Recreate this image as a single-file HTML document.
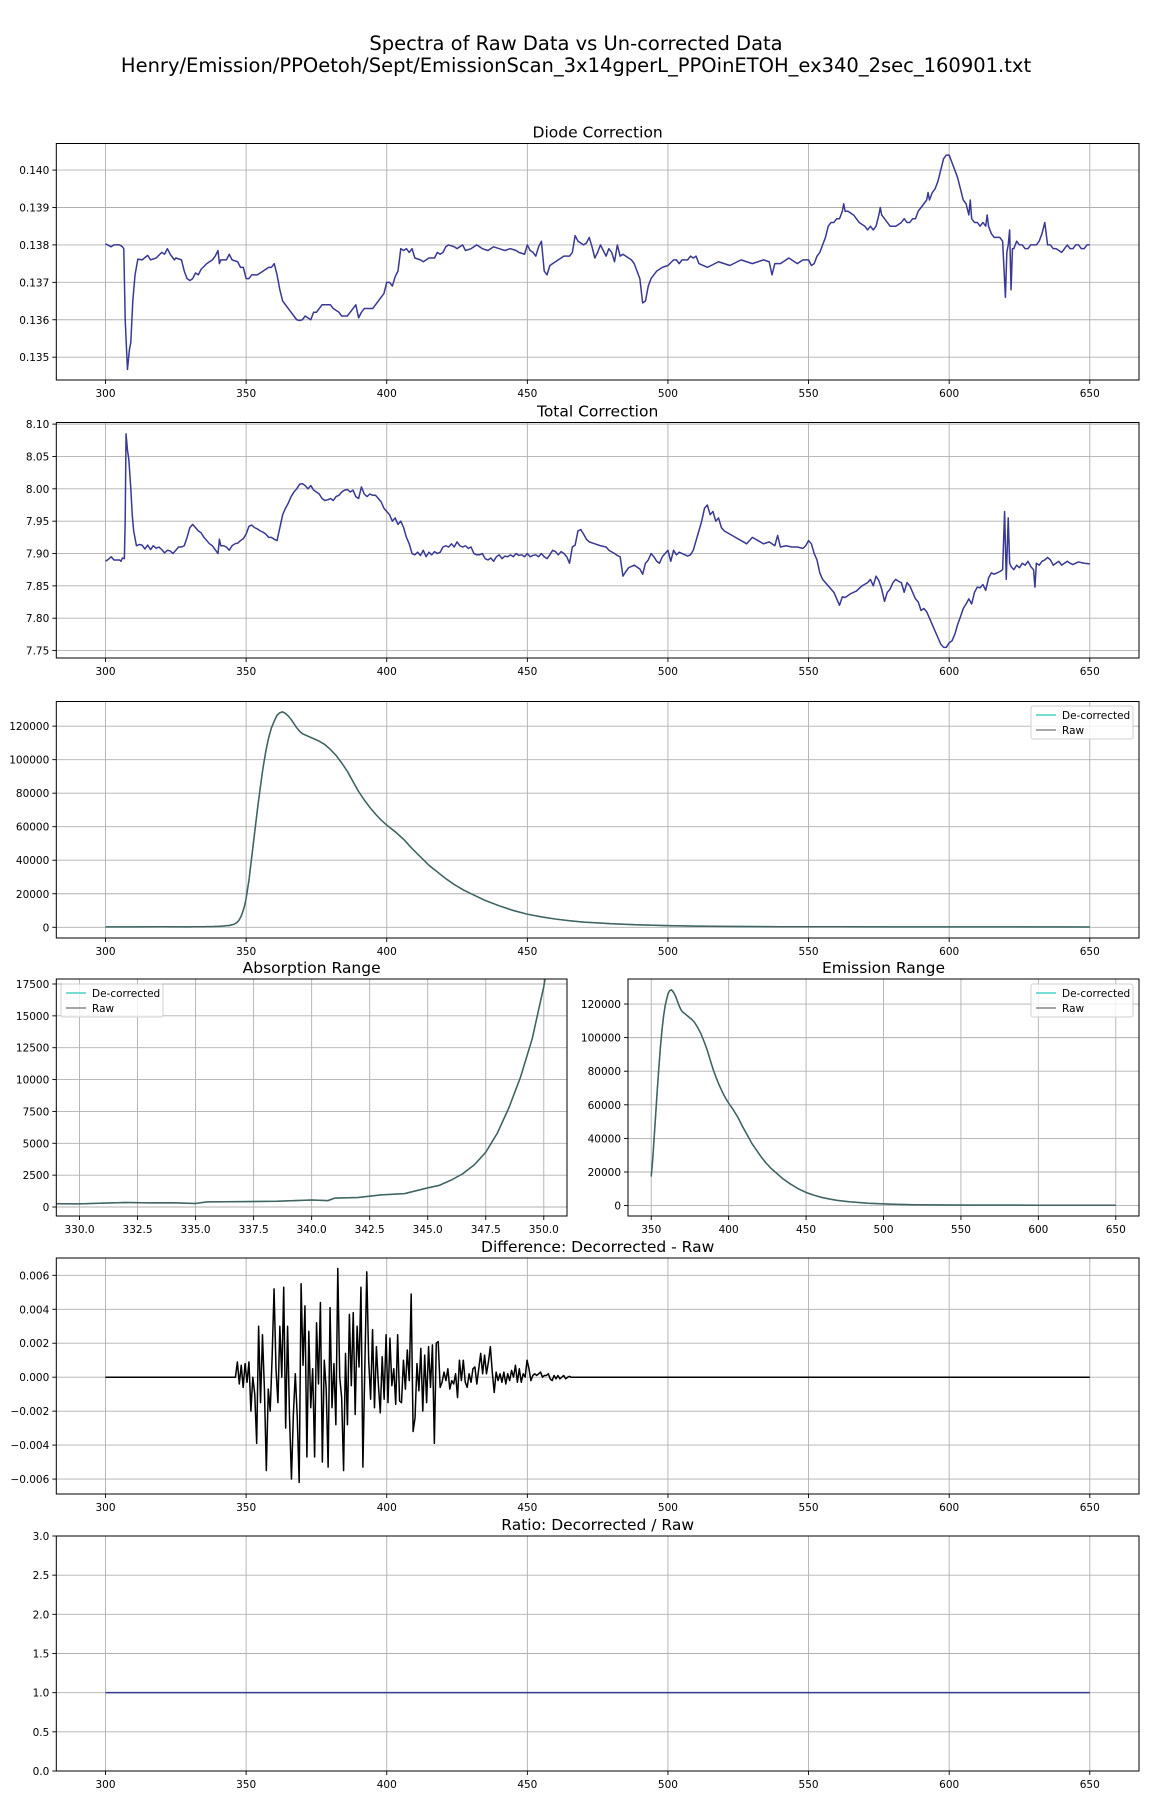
<!DOCTYPE html>
<html><head><meta charset="utf-8"><style>
body{margin:0;background:#fff;}
svg{display:block;font-family:"DejaVu Sans","Liberation Sans",sans-serif;}
</style></head><body>
<svg id="fig" width="1152" height="1800" viewBox="0 0 1152 1800">
<rect width="1152" height="1800" fill="#fff"/>
<text x="576" y="50" font-size="19.5" text-anchor="middle" fill="#000">Spectra of Raw Data vs Un-corrected Data</text>
<text x="576" y="72" font-size="19.5" text-anchor="middle" fill="#000">Henry/Emission/PPOetoh/Sept/EmissionScan_3x14gperL_PPOinETOH_ex340_2sec_160901.txt</text>
</svg>
<script>
// ---------- DATA ----------
const diodeX=[300,302,303,305,306,306.5,307,307.8,308.5,309,309.7,310.5,311.5,313,315,316,318,320,321,322,323,324.5,325,327,328,329,330,331,332,333,334,336,338,339,340,340.5,341,343,344,345,347,348,349,350,351,352,354,356,358,359,360,361,362,363,364,365,366,367,368,369,370,371,372,373,374,375,376,377,378,380,381,383,384,386,387,388,389,390,391,392,394,395,396,398,399,400,401,402,403,404,404.5,405,406,407,408,409,410,412,413,414,415,417,418,419,420,421,422,424,425,427,428,430,432,434,436,438,440,442,444,446,447,449,450,451,452,453,454,455,456,457,458,459,461,463,465,466,467,468,470,471,472,473,474,475,476,477,478,479,480,481,482,483,484,485,486,487,488,489,490,491,492,493,494,495,496,498,500,502,503,504,505,507,508,509,510,511,514,518,522,526,530,534,536,537,538,540,543,546,548,550,551,552,553,554,555,556,557,558,559,560,561,562,562.5,563,564,566,567,568,570,571,572,573,574,575,575.5,576,577,578,579,581,582,583,584,585,586,587,588,589,590,591,592,592.5,593,594,595,596,597,598,599,600,601,602,603,604,605,606,607,607.5,608,609,610,611,612,613,613.5,614,615,616,617,618,619,620,620.5,621,621.5,622,622.5,623,624,625,626,627,628,629,630,631,632,633,634,635,636,637,638,640,641,642,643,644,645,646,647,648,649,650];
const diodeY=[.13803,.13795,.1380,.1380,.13795,.1379,.1360,.13467,.1352,.1354,.1365,.1372,.13762,.1376,.13772,.1376,.13765,.1378,.13775,.1379,.13775,.1376,.13765,.1376,.1373,.1371,.13705,.1371,.13725,.1372,.13735,.1375,.1376,.1377,.13785,.1375,.1376,.1376,.13775,.1376,.13755,.1374,.1374,.1371,.1371,.1372,.1372,.1373,.1374,.1374,.1375,.1372,.1368,.1365,.1364,.1363,.1362,.1361,.1360,.13598,.1360,.1361,.13605,.1360,.1362,.1362,.1363,.1364,.1364,.1364,.1363,.1362,.1361,.1361,.1362,.1363,.1364,.13605,.1362,.1363,.1363,.1363,.1364,.1366,.1367,.1370,.1370,.1369,.13715,.1373,.1376,.1379,.13785,.1379,.1378,.1379,.13765,.1376,.13755,.1376,.13765,.13765,.1378,.13775,.1378,.13795,.1380,.13795,.1379,.1380,.13785,.1379,.1380,.1379,.13785,.13795,.1379,.13785,.1379,.13785,.1378,.13775,.1380,.13785,.1378,.1377,.13795,.1381,.1373,.1372,.13745,.1375,.1376,.1377,.1377,.1378,.13825,.1381,.1380,.13805,.1382,.13795,.13765,.1378,.1380,.13785,.1377,.1379,.1378,.13755,.1380,.1377,.13775,.1377,.13765,.1376,.1375,.1373,.1371,.13645,.1365,.1369,.1371,.1372,.1373,.1374,.13745,.1376,.1376,.1375,.1376,.1376,.1377,.13765,.1377,.1375,.1374,.13755,.13745,.1376,.1375,.1376,.13755,.1372,.1375,.1375,.13765,.1375,.1376,.1376,.13745,.1375,.1377,.1378,.1380,.1382,.1385,.1386,.1386,.1387,.1387,.1389,.1391,.1389,.1389,.1388,.1387,.1386,.1385,.1384,.1385,.1384,.1385,.1388,.1390,.1388,.1387,.1386,.1385,.1385,.13855,.1386,.1387,.1386,.1386,.1387,.1387,.1389,.1390,.1391,.1392,.1394,.1392,.1394,.1395,.1397,.1400,.1403,.1404,.1404,.1402,.1400,.1398,.1395,.1392,.1391,.1388,.1392,.1387,.1386,.1386,.1385,.1386,.1385,.1388,.1385,.1383,.1382,.1382,.1382,.1381,.1366,.1378,.1380,.1384,.1368,.1379,.1379,.1381,.1380,.1380,.1379,.1379,.1380,.1380,.1380,.1381,.1383,.1386,.1380,.1380,.1379,.1379,.1378,.1379,.1380,.1379,.1379,.1380,.1380,.1379,.1379,.1380,.1380];
const totalX=[300,301,302,303,305,305.5,306,306.7,307,307.3,307.8,308.3,309,309.5,310,311,312,313,314,315,316,317,318,319,320,321,322,323,324,325,326,327,328,329,330,331,332,333,334,335,336,337,338,339,340,340.5,341,342,343,344,345,346,347,348,349,350,351,352,353,354,355,356,357,358,359,360,361,362,363,364,365,366,367,368,369,370,371,372,373,374,375,376,377,378,379,380,381,382,383,384,385,386,387,388,389,390,391,392,393,394,395,396,397,398,399,400,401,402,403,404,405,406,407,408,409,410,411,412,413,414,415,416,417,418,419,420,421,422,423,424,425,426,427,428,429,430,431,432,433,434,435,436,437,438,439,440,441,442,443,444,445,446,447,448,449,450,451,452,453,454,455,456,457,458,459,460,461,462,463,464,465,466,467,468,469,470,471,472,474,476,478,479,481,482,483,484,485,486,488,490,491,492,493,494,495,496,497,498,499,500,501,502,503,504,506,507,508,509,510,511,512,513,514,515,516,517,518,519,520,522,524,526,528,530,532,534,536,538,539,540,542,544,546,548,549,550,551,552,553,554,555,556,557,558,559,560,561,562,563,565,567,569,571,572,573,574,575,576,577,578,579,580,581,582,583,584,585,586,587,588,589,590,591,592,593,594,595,596,597,598,599,600,601,602,603,604,605,606,607,608,609,610,611,612,613,614,615,616,617,618,619,619.7,620.3,621,621.5,622,623,624,625,626,627,628,629,630,630.5,631,632,633,634,635,636,637,638,639,640,641,642,643,644,645,646,648,650];
const totalY=[7.888,7.891,7.895,7.890,7.890,7.888,7.893,7.892,7.95,8.085,8.06,8.045,8.00,7.96,7.935,7.912,7.914,7.913,7.907,7.913,7.906,7.912,7.908,7.910,7.906,7.901,7.905,7.904,7.900,7.905,7.910,7.910,7.912,7.925,7.940,7.945,7.940,7.935,7.932,7.925,7.920,7.915,7.912,7.906,7.900,7.922,7.912,7.912,7.910,7.905,7.912,7.915,7.916,7.920,7.923,7.930,7.942,7.944,7.940,7.938,7.935,7.933,7.930,7.925,7.925,7.922,7.920,7.940,7.960,7.970,7.978,7.988,7.995,8.000,8.007,8.008,8.005,8.000,8.005,7.998,7.995,7.992,7.985,7.982,7.983,7.985,7.982,7.988,7.990,7.995,7.998,7.999,7.995,7.998,7.988,7.985,8.003,7.992,7.988,7.992,7.990,7.990,7.985,7.980,7.970,7.965,7.960,7.950,7.955,7.945,7.950,7.940,7.925,7.915,7.900,7.898,7.902,7.897,7.905,7.895,7.902,7.898,7.903,7.900,7.902,7.910,7.912,7.910,7.915,7.910,7.918,7.912,7.910,7.912,7.908,7.910,7.900,7.898,7.898,7.900,7.892,7.890,7.893,7.888,7.895,7.898,7.892,7.896,7.895,7.898,7.895,7.900,7.897,7.898,7.895,7.900,7.895,7.897,7.898,7.895,7.900,7.895,7.892,7.898,7.905,7.903,7.898,7.903,7.900,7.895,7.885,7.910,7.913,7.935,7.937,7.930,7.922,7.918,7.915,7.912,7.910,7.905,7.900,7.897,7.895,7.865,7.872,7.878,7.882,7.876,7.868,7.885,7.890,7.900,7.895,7.888,7.885,7.895,7.900,7.905,7.888,7.905,7.898,7.902,7.898,7.896,7.898,7.905,7.920,7.935,7.950,7.970,7.975,7.960,7.965,7.950,7.955,7.940,7.935,7.930,7.925,7.920,7.915,7.925,7.920,7.915,7.918,7.912,7.928,7.910,7.912,7.910,7.910,7.908,7.912,7.920,7.915,7.900,7.890,7.870,7.860,7.855,7.850,7.845,7.840,7.830,7.820,7.833,7.832,7.838,7.842,7.850,7.855,7.860,7.850,7.865,7.858,7.845,7.826,7.840,7.845,7.855,7.860,7.857,7.855,7.840,7.855,7.850,7.840,7.830,7.825,7.812,7.815,7.810,7.800,7.790,7.780,7.770,7.760,7.755,7.755,7.762,7.765,7.775,7.790,7.802,7.815,7.822,7.830,7.822,7.840,7.848,7.847,7.852,7.843,7.862,7.870,7.868,7.870,7.872,7.875,7.965,7.860,7.955,7.885,7.880,7.875,7.882,7.878,7.885,7.882,7.888,7.880,7.875,7.848,7.885,7.882,7.888,7.890,7.894,7.890,7.882,7.885,7.888,7.882,7.885,7.888,7.885,7.883,7.885,7.887,7.885,7.884];
const rawX=[300,310,320,329,330,331,332,333,334,335,335.5,337,338.5,340,340.7,341,342,343,344,345,345.5,346,346.5,347,347.5,348,348.5,349,349.5,350,351,352,353,354,355,356,357,358,359,360,361,362,363,364,365,366,367,368,369,370,372,374,376,378,380,382,384,386,388,390,392,394,396,398,400,403,406,409,412,415,418,421,424,427,430,435,440,445,450,455,460,465,470,475,480,490,500,510,520,540,560,600,650];
const rawY=[250,260,280,260,250,300,350,320,330,280,400,420,450,550,500,700,750,950,1050,1500,1700,2100,2600,3300,4300,5800,7800,10200,13200,17300,28000,42000,56000,70000,83000,95000,105000,113000,119000,123000,126500,128000,128500,127500,126000,124000,121500,119000,117000,115500,114000,112500,111000,109000,106000,102500,98000,93000,87000,81000,76000,71500,67500,64000,61000,57000,52500,47000,42000,37000,33000,29000,25500,22500,20000,16000,12800,10000,7800,6200,4900,3900,3100,2600,2100,1400,1000,700,500,350,280,220,200];
const decorrY=rawY.slice();
const diffStart=346.2, diffEnd=465;
const diffY=[0,0.9,-0.4,0.7,-0.6,0.8,-0.3,0.9,-2.0,0,-1.0,-3.9,3.0,-1.5,2.5,-0.7,-5.5,-0.7,-2.0,1.2,5.2,0.5,-1.5,3.0,0,5.3,-3.0,3.0,-2.3,-6.0,-2.2,0.2,-2.3,-6.2,5.5,0.7,4.2,-4.7,2.7,-1.8,0.5,-4.7,3.2,-0.4,4.4,-5.0,1.0,-0.7,-5.3,4.1,-1.8,0.8,-2.8,6.4,0,-1.2,-5.5,1.4,-2.8,3.7,-0.5,3.8,-2.2,3.0,0.6,5.3,-5.3,0.6,6.2,1.0,-1.3,2.8,-1.8,1.8,-0.4,-2.1,1.2,-1.3,2.5,-1.5,2.3,-0.5,0.5,-1.6,2.5,-1.4,-1.5,1.0,-0.7,1.6,-0.2,4.9,-3.2,-2.4,0.8,-0.8,1.7,-2.0,1.3,-1.5,1.8,-0.6,1.9,-3.9,2.0,2.1,-0.6,-0.3,0.3,-0.2,0.5,-0.7,-0.2,-0.4,0.2,-1.2,1.0,-0.2,1.0,-0.3,-0.6,0.2,-0.3,0.5,0.6,-0.4,0.5,1.4,0.2,1.3,0.2,0.9,1.8,0.3,-0.9,0.3,-0.2,0.2,-0.3,0.3,-0.4,0.2,-0.2,0.4,0,0.7,-0.3,0.5,-0.3,0.2,0,1.0,0.5,-0.2,0.1,0.2,0.1,0.2,0.3,0,0.1,0.1,0.2,-0.1,-0.2,0.1,-0.1,0.1,-0.1,0,0.1,-0.1,0,0.05];
const ratioX=[300,650];
const ratioY=[1.0,1.0];
const xTicksMain=[300,350,400,450,500,550,600,650];
const xTicksAbs=[330,332.5,335,337.5,340,342.5,345,347.5,350];
const xTicksEm=[350,400,450,500,550,600,650];
const yTicksDiode=[0.135,0.136,0.137,0.138,0.139,0.140];
const yTicksTotal=[7.75,7.80,7.85,7.90,7.95,8.00,8.05,8.10];
const yTicksSpec=[0,20000,40000,60000,80000,100000,120000];
const yTicksAbs=[0,2500,5000,7500,10000,12500,15000,17500];
const yTicksDiff=[-0.006,-0.004,-0.002,0,0.002,0.004,0.006];
const yTicksRatio=[0,0.5,1.0,1.5,2.0,2.5,3.0];

// ---------- RENDER ----------
const NS='http://www.w3.org/2000/svg';
const fig=document.getElementById('fig');
function mk(tag,attrs,parent){const e=document.createElementNS(NS,tag);for(const k in attrs)e.setAttribute(k,attrs[k]);(parent||fig).appendChild(e);return e;}
function fmtMinus(s){return s.replace('-','\u2212');}

function axes(o){
  const g=mk('g',{});
  
  
  const L=o.box[0],R=o.box[1],T=o.box[2],B=o.box[3];
  const sx=v=>L+(v-o.xlim[0])/(o.xlim[1]-o.xlim[0])*(R-L);
  const sy=v=>B-(v-o.ylim[0])/(o.ylim[1]-o.ylim[0])*(B-T);
  o.xticks.forEach(t=>{
    const x=sx(t);
    const gl=mk('line',{x1:x,x2:x,y1:T,y2:B,stroke:'#b0b0b0','stroke-width':0.9},g);
    
    
    mk('line',{x1:x,x2:x,y1:B,y2:B+4,stroke:'#000','stroke-width':0.9},g);
    const tx=mk('text',{x:x,y:B+17,'font-size':10.5,'text-anchor':'middle',fill:'#000'},g);
    
    
    tx.textContent=o.xfmt(t);
  });
  o.yticks.forEach(t=>{
    const y=sy(t);
    const gl=mk('line',{x1:L,x2:R,y1:y,y2:y,stroke:'#b0b0b0','stroke-width':0.9},g);
    
    
    mk('line',{x1:L-4,x2:L,y1:y,y2:y,stroke:'#000','stroke-width':0.9},g);
    const tx=mk('text',{x:L-7,y:y+4,'font-size':10.5,'text-anchor':'end',fill:'#000'},g);
    
    
    tx.textContent=fmtMinus(o.yfmt(t));
  });
  const clipId='c'+o.name;
  const cp=mk('clipPath',{id:clipId},g);
  mk('rect',{x:L,y:T,width:R-L,height:B-T},cp);
  o.series.forEach(s=>{
    let d='';
    for(let i=0;i<s.x.length;i++){
      if(s.x[i]<o.xlim[0]||s.x[i]>o.xlim[1])continue;
      d+=(d?'L':'M')+sx(s.x[i]).toFixed(2)+','+sy(s.y[i]).toFixed(2);
    }
    const p=mk('path',{d:d,fill:'none',stroke:s.color,'stroke-width':s.w||1.5,'stroke-opacity':s.op||1,'stroke-linejoin':'round','clip-path':'url(#'+clipId+')'},g);
    
    
  });
  const fr=mk('rect',{x:L,y:T,width:R-L,height:B-T,fill:'none',stroke:'#000','stroke-width':1},g);
  
  
  if(o.title){
    const tt=mk('text',{x:(L+R)/2,y:T-6,'font-size':15.5,'text-anchor':'middle',fill:'#000'},g);
    
    
    tt.textContent=o.title;
  }
  if(o.legend){
    const [lx,ly]=o.legend;
    const lg=mk('g',{},g);
    
    
    mk('rect',{x:lx,y:ly,width:102,height:33,rx:2,fill:'#fff','fill-opacity':0.8,stroke:'#d0d0d0','stroke-width':1},lg);
    [['De-corrected','#48d1cc'],['Raw','#555']].forEach((e,i)=>{
      const eg=mk('g',{},lg);
      
      
      mk('line',{x1:lx+5,x2:lx+25,y1:ly+9+i*15,y2:ly+9+i*15,stroke:e[1],'stroke-width':1.5,'stroke-opacity':i?0.7:1},eg);
      const t=mk('text',{x:lx+31,y:ly+13+i*15,'font-size':10.5,fill:'#000'},eg);
      t.textContent=e[0];
    });
  }
}
const f0=v=>String(v), f1=v=>v.toFixed(1), f2=v=>v.toFixed(2), f3=v=>v.toFixed(3);
const XL=[282.5,667.5];
const specSeries=[{x:rawX,y:decorrY,color:'#48d1cc',name:'decorrected-line'},{x:rawX,y:rawY,color:'#444',op:0.8,name:'raw-line'}];
const diffX=diffY.map((v,i)=>diffStart+i*(diffEnd-diffStart)/(diffY.length-1));
const diffXf=[300,diffStart-0.5].concat(diffX,[diffEnd+0.5,650]);
const diffYf=[0,0].concat(diffY.map(v=>v*0.001),[0,0]);

axes({name:'diode-correction-chart',box:[56.3,1139,143.5,380],xlim:XL,ylim:[0.13439,0.14071],xticks:xTicksMain,yticks:yTicksDiode,xfmt:f0,yfmt:f3,title:'Diode Correction',series:[{x:diodeX,y:diodeY,color:'#393993',name:'diode-line'}]});
axes({name:'total-correction-chart',box:[56.3,1139,422.5,658],xlim:XL,ylim:[7.7385,8.1025],xticks:xTicksMain,yticks:yTicksTotal,xfmt:f0,yfmt:f2,title:'Total Correction',series:[{x:totalX,y:totalY,color:'#393993',name:'total-line'}]});
axes({name:'spectrum-chart',box:[56.3,1139,701.5,938],xlim:XL,ylim:[-6400,134700],xticks:xTicksMain,yticks:yTicksSpec,xfmt:f0,yfmt:f0,legend:[1031,706],series:specSeries});
axes({name:'absorption-range-chart',box:[56.3,567,979,1216],xlim:[329,351],ylim:[-706,17892],xticks:xTicksAbs,yticks:yTicksAbs,xfmt:f1,yfmt:f0,title:'Absorption Range',legend:[61,984],series:specSeries});
axes({name:'emission-range-chart',box:[628,1139,979,1216],xlim:[335,665],ylim:[-6200,134900],xticks:xTicksEm,yticks:yTicksSpec,xfmt:f0,yfmt:f0,title:'Emission Range',legend:[1031,984],series:[{x:rawX.filter(v=>v>=350),y:decorrY.slice(rawX.indexOf(350)),color:'#48d1cc',name:'decorrected-line'},{x:rawX.filter(v=>v>=350),y:rawY.slice(rawX.indexOf(350)),color:'#444',op:0.8,name:'raw-line'}]});
axes({name:'difference-chart',box:[56.3,1139,1258,1494],xlim:XL,ylim:[-0.00688,0.00702],xticks:xTicksMain,yticks:yTicksDiff,xfmt:f0,yfmt:f3,title:'Difference: Decorrected - Raw',series:[{x:diffXf,y:diffYf,color:'#000',name:'difference-line'}]});
axes({name:'ratio-chart',box:[56.3,1139,1536,1771],xlim:XL,ylim:[0,3],xticks:xTicksMain,yticks:yTicksRatio,xfmt:f0,yfmt:f1,title:'Ratio: Decorrected / Raw',series:[{x:ratioX,y:ratioY,color:'#393993',name:'ratio-line'}]});
</script>
</body></html>
